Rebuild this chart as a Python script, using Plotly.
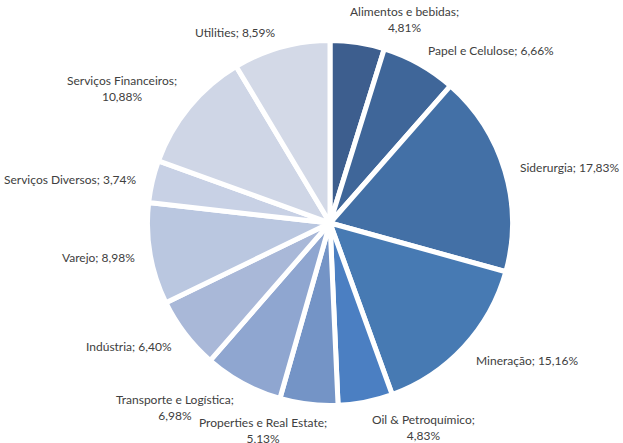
import math
import plotly.graph_objects as go

sectors = ["Alimentos e bebidas", "Papel e Celulose", "Siderurgia", "Mineração",
           "Oil & Petroquímico", "Properties e Real Estate", "Transporte e Logística",
           "Indústria", "Varejo", "Serviços Diversos", "Serviços Financeiros", "Utilities"]
shares = [4.81, 6.66, 17.83, 15.16, 4.83, 5.13, 6.98, 6.40, 8.98, 3.74, 10.88, 8.59]
colors = ["#3D5E8E", "#3F6699", "#4370A6", "#477AB3", "#4B7FC2", "#7494C6",
          "#8FA6D0", "#A9B8D8", "#BAC7E0", "#C8D1E5", "#CFD6E6", "#D3D9E7"]

W, H = 623, 443
cx, cy, R = 330, 223, 180
border = 5
rr = R + border / 2
FONT_SIZE = 12
CHAR_W = 6.0  # approx. average glyph width in px

fig = go.Figure(go.Pie(
    labels=sectors, values=shares, sort=False, direction="clockwise", rotation=0,
    marker=dict(colors=colors, line=dict(color="white", width=border)),
    textinfo="none", hoverinfo="label+percent", showlegend=False,
    domain=dict(x=[(cx - rr) / W, (cx + rr) / W], y=[(H - cy - rr) / H, (H - cy + rr) / H]),
))

def fmt(v):
    return f"{v:.2f}".replace(".", ",") + "%"

total = sum(shares)
cum = 0.0
annotations = []
label_r = 196
for name, v in zip(sectors, shares):
    mid = (cum + v / 2) / total * 2 * math.pi
    cum += v
    s, c = math.sin(mid), math.cos(mid)
    px = cx + label_r * s
    py = cy - label_r * c
    wrap = len(name) >= 18
    lines = [name + ";", fmt(v)] if wrap else [f"{name}; {fmt(v)}"]
    text = "<br>".join(lines)
    tw = max(len(l) for l in lines) * CHAR_W
    f = max(-1.0, min(1.0, s / 0.2))
    if f >= 1:
        xa, x = "left", px
    elif f <= -1:
        xa, x = "right", px
    else:
        xa, x = "center", px + f * tw / 2
    if c > 0.5:
        ya, ysh = "bottom", -8
    elif c < -0.5:
        ya, ysh = "top", 5
    else:
        ya, ysh = "middle", -1
    annotations.append(dict(
        x=x / W, y=1 - py / H, xref="paper", yref="paper",
        text=text, showarrow=False, yshift=ysh,
        xanchor=xa, yanchor=ya, align="center",
        font=dict(family="Lato, Open Sans, sans-serif", size=FONT_SIZE, color="#404040"),
    ))

fig.update_layout(
    width=W, height=H, margin=dict(l=0, r=0, t=0, b=0),
    paper_bgcolor="white", plot_bgcolor="white",
    annotations=annotations,
)
fig.write_html("out.html", config={"displayModeBar": False},
               post_script="document.body.style.margin='0';")
